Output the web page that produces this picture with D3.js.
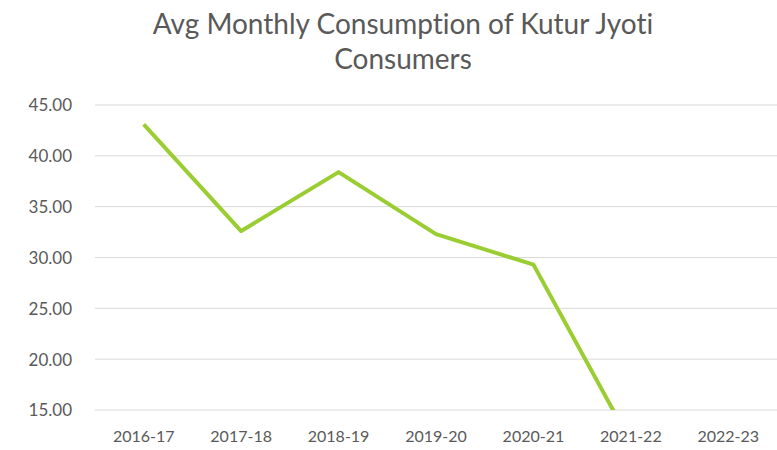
<!DOCTYPE html>
<html>
<head>
<meta charset="utf-8">
<script src="https://cdn.jsdelivr.net/npm/d3@7"></script>
<style>
html,body{margin:0;padding:0;background:#fff;}
svg{display:block;}
text{font-variant-ligatures:none;font-feature-settings:"liga" 0, "clig" 0;}
</style>
</head>
<body>
<svg id="chart" width="777" height="450"></svg>
<script>
const categories = ["2016-17","2017-18","2018-19","2019-20","2020-21","2021-22","2022-23"];
const values = [43.1, 32.6, 38.4, 32.3, 29.3, 11.8, null];
const yTicks = [15, 20, 25, 30, 35, 40, 45];
const titleLines = ["Avg Monthly Consumption of Kutur Jyoti", "Consumers"];

const svg = d3.select("#chart");
const W = 777, H = 450;
const m = {left: 95, right: 0, top: 105, bottom: 40};
const font = "Lato, 'Open Sans', sans-serif";
const textColor = "#595959";

const x = d3.scaleBand().domain(categories).range([m.left, W - m.right]);
const y = d3.scaleLinear().domain([15, 45]).range([410, 105]);

// gridlines
svg.append("g")
  .selectAll("line").data(yTicks).join("line")
  .attr("x1", m.left).attr("x2", W - m.right)
  .attr("y1", d => y(d)).attr("y2", d => y(d))
  .attr("stroke", "#d9d9d9").attr("stroke-width", 1);

// y axis labels
const yAxis = d3.axisLeft(y).tickValues(yTicks).tickFormat(d3.format(".2f")).tickSize(0).tickPadding(0);
const gy = svg.append("g").attr("transform", "translate(72,0)").call(yAxis);
gy.select(".domain").remove();
gy.selectAll("text").attr("font-family", font).attr("font-size", 17).attr("fill", textColor).attr("dy", "0.35em");

// x axis labels
const xAxis = d3.axisBottom(x).tickSize(0).tickPadding(0);
const gx = svg.append("g").attr("transform", "translate(0,436)").call(xAxis);
gx.select(".domain").remove();
gx.selectAll("text").attr("font-family", font).attr("font-size", 16).attr("fill", textColor).attr("dy", "0.35em");

// clip
svg.append("clipPath").attr("id", "clip").append("rect")
  .attr("x", m.left).attr("y", y(45) - 10).attr("width", W - m.left).attr("height", y(15) - y(45) + 10);

const data = categories.map((c, i) => ({c, v: values[i]}));
const line = d3.line()
  .defined(d => d.v !== null)
  .x(d => x(d.c) + x.bandwidth() / 2)
  .y(d => y(d.v));

svg.append("path").datum(data)
  .attr("clip-path", "url(#clip)")
  .attr("fill", "none").attr("stroke", "#9acd32").attr("stroke-width", 4)
  .attr("stroke-linejoin", "round")
  .attr("d", line);

// title
const t = svg.append("g");
titleLines.forEach((s, i) => {
  t.append("text").attr("x", 403).attr("y", 34 + i * 35)
    .attr("text-anchor", "middle").attr("font-family", font).attr("font-size", 28)
    .attr("fill", textColor).text(s);
});
</script>
</body>
</html>
